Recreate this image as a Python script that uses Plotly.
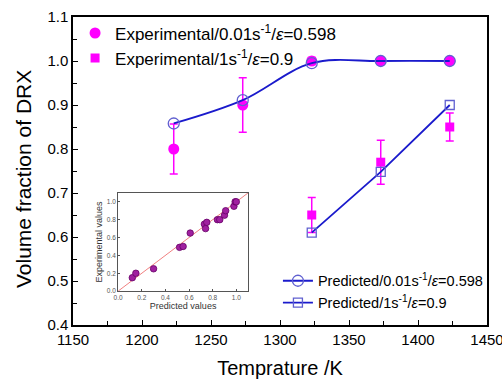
import plotly.graph_objects as go

temps = [1223, 1273, 1323, 1373, 1423]
exp_001 = [0.80, 0.90, 1.00, 1.00, 1.00]
exp_001_err = [0.057, 0.062, 0.008, 0.0, 0.0]
temps_1 = [1323, 1373, 1423]
exp_1 = [0.65, 0.77, 0.85]
exp_1_err = [0.04, 0.05, 0.032]
pred_001 = [0.858, 0.911, 0.995, 1.00, 1.00]
pred_1 = [0.61, 0.748, 0.90]

inset_pred = [0.12, 0.15, 0.30, 0.52, 0.55, 0.61, 0.73, 0.75, 0.74, 0.84, 0.86, 0.90, 0.91, 0.98, 0.99, 1.00]
inset_exp = [0.15, 0.20, 0.25, 0.49, 0.50, 0.65, 0.75, 0.77, 0.70, 0.80, 0.80, 0.85, 0.90, 0.95, 1.00, 1.00]

MAG = "#ff00ff"
BLUE = "#1a1acc"
MBLUE = "#6060d0"
FONT = "Liberation Sans, Arial, sans-serif"

fig = go.Figure()

fig.add_trace(go.Scatter(
    x=temps, y=exp_001, mode="markers", name="Experimental/0.01s<sup>-1</sup>/<i>ε</i>=0.598",
    marker=dict(symbol="circle", size=11, color=MAG),
    error_y=dict(type="data", array=exp_001_err, color=MAG, thickness=1.5, width=4),
    legend="legend"))
fig.add_trace(go.Scatter(
    x=temps_1, y=exp_1, mode="markers", name="Experimental/1s<sup>-1</sup>/<i>ε</i>=0.9",
    marker=dict(symbol="square", size=9, color=MAG),
    error_y=dict(type="data", array=exp_1_err, color=MAG, thickness=1.5, width=4),
    legend="legend"))
fig.add_trace(go.Scatter(
    x=temps, y=pred_001, mode="lines+markers", name="Predicted/0.01s<sup>-1</sup>/<i>ε</i>=0.598",
    line=dict(color=BLUE, width=1.8, shape="spline", smoothing=1),
    marker=dict(symbol="circle-open", size=11, color=MBLUE, line=dict(width=1.3)),
    legend="legend2"))
fig.add_trace(go.Scatter(
    x=temps_1, y=pred_1, mode="lines+markers", name="Predicted/1s<sup>-1</sup>/<i>ε</i>=0.9",
    line=dict(color=BLUE, width=1.8),
    marker=dict(symbol="square-open", size=9, color=MBLUE, line=dict(width=1.3)),
    legend="legend2"))

# inset
fig.add_trace(go.Scatter(
    x=[0, 1.1], y=[0, 1.1], mode="lines", line=dict(color="#f08080", width=1),
    xaxis="x2", yaxis="y2", showlegend=False))
fig.add_trace(go.Scatter(
    x=inset_pred, y=inset_exp, mode="markers",
    marker=dict(symbol="circle", size=6.5, color="#a020a0", line=dict(color="#660066", width=0.8)),
    xaxis="x2", yaxis="y2", showlegend=False))

fig.update_layout(
    width=502, height=379,
    margin=dict(l=73, r=15, t=17, b=54, autoexpand=False),
    plot_bgcolor="white", paper_bgcolor="white",
    font=dict(family=FONT, color="black"),
    showlegend=True,
    legend=dict(x=0.005, y=1.005, xanchor="left", yanchor="top", bgcolor="rgba(0,0,0,0)",
                font=dict(size=17, family=FONT), tracegroupgap=0),
    legend2=dict(x=0.495, y=0.02, xanchor="left", yanchor="bottom", bgcolor="rgba(0,0,0,0)",
                 font=dict(size=14.5, family=FONT), tracegroupgap=0),
    xaxis=dict(range=[1150, 1450], dtick=50, tick0=1150, showgrid=False, zeroline=False,
               showline=True, linecolor="black", linewidth=1.5, mirror=True,
               ticks="inside", ticklen=5, tickwidth=1.2, tickcolor="black",
               minor=dict(ticks="inside", ticklen=4, tickwidth=1.2, tickcolor="black", dtick=25),
               tickfont=dict(size=15), ticklabeloverflow="allow", automargin=False,
               title=dict(text="Temprature /K", font=dict(size=20), standoff=17)),
    yaxis=dict(range=[0.4, 1.1], dtick=0.1, tickformat=".1f", showgrid=False, zeroline=False,
               showline=True, linecolor="black", linewidth=1.5, mirror=True,
               ticks="inside", ticklen=5, tickwidth=1.2, tickcolor="black",
               minor=dict(ticks="inside", ticklen=4, tickwidth=1.2, tickcolor="black", dtick=0.05),
               tickfont=dict(size=15), automargin=False),
    xaxis2=dict(domain=[0.109, 0.423], anchor="y2", range=[0, 1.1], dtick=0.2, tickformat=".1f",
                showgrid=False, zeroline=False, showline=True, linecolor="#555555", linewidth=1,
                mirror=True, ticks="inside", ticklen=2, tickcolor="#555555",
                tickfont=dict(size=6.5, color="#555555"), automargin=False,
                title=dict(text="Predicted values", font=dict(size=9, color="#333333"), standoff=2)),
    yaxis2=dict(domain=[0.110, 0.429], anchor="x2", range=[0, 1.1], dtick=0.2, tickformat=".1f",
                showgrid=False, zeroline=False, showline=True, linecolor="#555555", linewidth=1,
                mirror=True, ticks="inside", ticklen=2, tickcolor="#555555",
                tickfont=dict(size=6.5, color="#555555"), automargin=False,
                title=dict(text="Experimental values", font=dict(size=9, color="#333333"), standoff=2)),
)

# y-axis title placed as paper annotation (centered slightly below plot middle, as in reference)
fig.add_annotation(text="Volume fraction of DRX", xref="paper", yref="paper",
                   x=-0.12, y=0.475, xanchor="center", yanchor="middle", textangle=-90,
                   showarrow=False, font=dict(size=21, family=FONT, color="black"))

fig.write_html("out.html")
